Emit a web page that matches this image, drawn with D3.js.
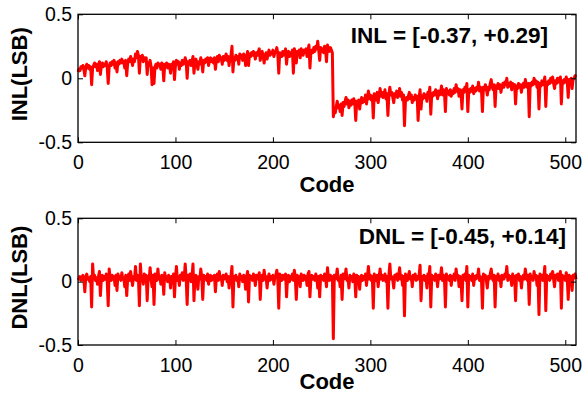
<!DOCTYPE html>
<html><head><meta charset="utf-8">
<script src="https://cdn.jsdelivr.net/npm/d3@7"></script>
<style>html,body{margin:0;padding:0;background:#fff;}svg{display:block;}</style>
</head><body>
<div id="chart"></div>
<script>
// ---- data ----
const xTicks = [0, 100, 200, 300, 400, 500];
const yTicks = [-0.5, 0, 0.5];
const yTickLabels = ["-0.5", "0", "0.5"];
const inlLabel = "INL = [-0.37, +0.29]";
const dnlLabel = "DNL = [-0.45, +0.14]";

const inl = [
0.05,0.07,0.06,0.09,0.08,0.10,0.07,0.02,0.09,0.11,0.08,0.10,0.07,0.09,-0.05,0.08,
0.10,0.12,0.09,0.11,0.06,0.10,0.13,0.03,0.10,0.12,0.09,0.11,0.10,0.13,0.08,-0.04,
0.09,0.12,0.10,0.13,0.11,0.14,0.08,0.12,0.05,0.13,0.11,0.14,0.12,0.15,0.12,0.13,
0.08,0.14,0.02,0.12,0.15,0.13,0.17,0.14,0.10,0.15,0.13,0.19,0.16,0.21,0.18,0.04,
0.17,0.15,0.18,0.13,0.16,0.14,0.16,0.03,0.12,0.10,0.14,0.09,-0.05,0.08,-0.04,0.09,
0.11,0.08,0.12,0.10,0.11,0.07,0.12,0.10,-0.02,0.11,0.09,0.12,0.08,0.11,0.10,0.04,
0.11,0.09,0.13,-0.01,0.10,0.14,0.11,0.13,0.07,0.12,0.10,0.14,0.11,0.12,0.16,0.13,
0.00,0.13,0.11,0.14,0.10,0.13,0.17,0.04,0.12,0.15,0.12,0.07,0.13,0.11,0.16,0.13,
0.05,0.14,0.12,0.15,0.13,0.16,0.10,0.14,0.16,0.13,0.15,0.12,0.16,0.07,0.14,0.17,
0.13,0.18,0.15,0.16,0.11,0.17,0.14,0.16,0.19,0.14,0.17,0.10,0.16,0.18,0.25,0.05,
0.16,0.14,0.18,0.15,0.17,0.11,0.19,0.16,0.18,0.14,0.19,0.17,0.10,0.17,0.21,0.10,
0.19,0.17,0.20,0.18,0.21,0.19,0.15,0.20,0.18,0.21,0.23,0.14,0.19,0.21,0.17,0.12,
0.18,0.20,0.15,0.19,0.22,0.18,0.20,0.19,0.22,0.17,0.20,0.21,0.24,0.19,0.04,0.20,
0.19,0.17,0.21,0.18,0.20,0.23,0.11,0.19,0.21,0.17,0.20,0.18,0.22,0.04,0.23,0.20,
0.12,0.21,0.19,0.22,0.16,0.23,0.20,0.18,0.22,0.20,0.23,0.17,0.22,0.26,0.08,0.21,
0.22,0.20,0.24,0.21,0.25,0.23,0.29,0.22,0.14,0.24,0.21,0.23,0.20,0.25,0.22,0.13,
0.26,0.23,0.21,0.24,0.22,0.20,-0.30,-0.24,-0.27,-0.22,-0.18,-0.23,-0.21,-0.26,-0.20,-0.29,
-0.19,-0.22,-0.18,-0.15,-0.20,-0.17,-0.23,-0.18,-0.21,-0.17,-0.20,-0.16,-0.19,-0.33,-0.18,-0.21,
-0.17,-0.24,-0.18,-0.15,-0.19,-0.16,-0.18,-0.13,-0.20,-0.15,-0.10,-0.16,-0.13,-0.17,-0.14,-0.31,
-0.12,-0.14,-0.17,-0.11,-0.19,-0.13,-0.08,-0.14,-0.11,-0.15,-0.12,-0.09,-0.16,-0.12,-0.29,-0.13,
-0.07,-0.13,-0.11,-0.15,-0.19,-0.12,-0.14,-0.10,-0.15,-0.12,-0.08,-0.14,-0.11,-0.17,-0.13,-0.37,
-0.18,-0.15,-0.17,-0.14,-0.11,-0.16,-0.13,-0.19,-0.15,-0.17,-0.13,-0.16,-0.14,-0.33,-0.15,-0.09,
-0.24,-0.14,-0.16,-0.12,-0.15,-0.13,-0.18,-0.11,-0.14,-0.07,-0.28,-0.12,-0.14,-0.11,-0.13,-0.09,
-0.12,-0.16,-0.10,-0.13,-0.11,-0.06,-0.13,-0.09,-0.11,-0.26,-0.08,-0.12,-0.10,-0.13,-0.09,-0.14,
-0.10,-0.12,-0.08,-0.11,-0.05,-0.10,-0.08,-0.14,-0.09,-0.11,-0.24,-0.09,-0.11,-0.07,-0.10,-0.04,
-0.26,-0.09,-0.11,-0.08,-0.10,-0.06,-0.12,-0.08,-0.10,-0.07,-0.09,-0.03,-0.10,-0.07,-0.09,-0.26,
-0.07,-0.09,-0.05,-0.08,-0.13,-0.07,-0.09,-0.04,-0.01,-0.07,-0.09,-0.05,-0.22,-0.06,-0.08,-0.04,
-0.08,-0.05,-0.11,-0.06,-0.04,-0.07,-0.03,-0.05,0.00,-0.07,-0.04,-0.06,-0.03,-0.09,-0.04,-0.06,
-0.05,-0.20,-0.06,-0.08,-0.04,-0.07,-0.05,-0.11,-0.06,-0.04,-0.07,-0.01,-0.05,-0.07,-0.04,-0.30,
-0.04,-0.06,-0.03,-0.05,0.00,-0.04,-0.02,-0.07,-0.03,-0.24,-0.04,-0.06,-0.02,-0.05,-0.03,0.01,
-0.22,-0.03,-0.05,-0.02,-0.04,0.00,-0.03,0.01,-0.04,-0.08,-0.02,-0.04,0.00,-0.03,-0.01,0.01,
-0.20,-0.02,-0.04,-0.01,-0.03,0.01,-0.02,-0.15,-0.01,-0.03,0.00,-0.08,-0.01,0.00,0.02,0.01
];

const dnl = [
0.03,0.02,0.04,0.01,0.03,0.05,0.02,-0.08,0.04,0.06,0.02,0.03,0.00,0.04,-0.20,0.14,
0.02,0.05,0.01,0.03,-0.02,0.04,0.08,-0.11,0.03,0.05,0.01,0.04,0.02,0.06,0.00,-0.19,
0.10,0.03,0.01,0.05,0.02,0.04,-0.03,0.05,-0.07,0.06,0.02,0.04,0.01,0.07,0.02,0.03,
-0.04,0.05,-0.11,0.03,0.06,0.01,0.08,0.02,-0.03,0.04,0.02,0.12,0.01,0.05,0.03,-0.19,
0.14,0.02,0.04,-0.02,0.06,0.03,0.05,-0.15,0.04,0.02,0.11,0.01,-0.04,0.05,-0.18,0.06,
0.03,0.01,0.10,0.02,0.04,-0.02,0.05,0.03,-0.10,0.07,0.02,0.04,0.00,0.05,0.03,-0.05,
0.04,0.02,0.06,-0.12,0.03,0.12,0.01,0.04,-0.03,0.05,0.02,0.07,0.01,0.03,0.14,0.02,
-0.18,0.05,0.03,0.06,0.00,0.04,0.14,-0.15,0.03,0.05,0.01,-0.06,0.04,0.02,0.10,0.03,
-0.14,0.05,0.02,0.04,0.01,0.06,-0.02,0.03,0.05,0.01,0.04,0.02,0.05,-0.08,0.03,0.06,
0.01,0.08,0.02,0.04,-0.03,0.05,0.02,0.03,0.06,0.00,0.04,-0.05,0.03,0.05,0.12,-0.20,
0.04,0.02,0.05,0.01,0.03,-0.04,0.06,0.02,0.04,0.00,0.05,0.03,-0.06,0.04,0.08,-0.16,
0.05,0.02,0.04,0.01,0.06,0.03,-0.03,0.05,0.02,0.04,0.07,-0.14,0.03,0.05,0.01,0.09,
0.02,0.04,-0.05,0.03,0.06,0.01,0.04,0.02,0.05,-0.02,0.03,0.05,0.09,0.02,-0.21,0.06,
0.03,0.01,0.05,0.02,0.04,0.06,-0.12,0.03,0.05,0.00,0.04,0.02,0.06,0.01,0.09,0.03,
-0.14,0.05,0.02,0.04,-0.04,0.06,0.03,0.01,0.05,0.02,0.04,-0.03,0.06,0.08,-0.12,0.03,
0.05,0.02,0.04,0.01,0.06,0.03,-0.05,0.04,-0.12,0.05,0.02,0.04,0.01,0.06,0.03,-0.04,
0.11,0.03,0.01,0.05,0.02,0.04,-0.45,0.05,0.02,0.04,0.10,0.01,0.03,-0.04,0.05,-0.14,
0.06,0.02,0.04,0.10,0.01,0.03,-0.05,0.05,0.02,0.04,0.00,0.06,0.03,-0.12,0.05,0.02,
0.04,-0.06,0.03,0.05,0.01,0.04,0.02,0.06,-0.03,0.04,0.12,0.02,0.05,0.01,0.04,-0.21,
0.06,0.03,0.01,0.05,-0.04,0.04,0.10,0.02,0.05,0.01,0.03,0.06,0.00,0.04,-0.21,0.05,
0.14,0.02,0.04,0.01,-0.05,0.05,0.03,0.06,0.01,0.04,0.11,0.02,0.05,-0.03,0.04,-0.27,
0.06,0.03,0.01,0.05,0.08,0.02,0.04,-0.04,0.05,0.02,0.06,0.01,0.04,0.02,0.05,0.13,
-0.15,0.04,0.02,0.05,0.01,0.04,-0.05,0.06,0.03,0.12,-0.20,0.05,0.02,0.04,0.01,0.06,
0.03,-0.04,0.05,0.02,0.04,0.11,0.01,0.05,0.03,-0.20,0.06,0.02,0.04,0.01,0.05,-0.03,
0.04,0.02,0.06,0.01,0.10,0.03,0.05,-0.04,0.04,0.02,-0.15,0.05,0.03,0.06,0.01,0.12,
-0.20,0.05,0.02,0.04,0.01,0.06,-0.03,0.04,0.02,0.05,0.03,0.10,0.01,0.04,0.02,-0.21,
0.06,0.03,0.05,0.01,-0.05,0.04,0.02,0.06,0.10,0.03,0.01,0.05,-0.20,0.04,0.02,0.06,
0.01,0.04,-0.04,0.05,0.03,0.02,0.06,0.04,0.12,0.01,0.05,0.02,0.04,-0.03,0.06,0.02,
0.04,-0.15,0.05,0.02,0.06,0.01,0.04,-0.05,0.03,0.05,0.02,0.10,0.04,0.01,0.05,-0.18,
0.06,0.02,0.04,0.01,0.08,0.03,0.05,-0.03,0.04,-0.26,0.06,0.02,0.05,0.01,0.04,0.12,
-0.23,0.05,0.02,0.04,0.01,0.06,0.03,0.08,0.02,-0.04,0.05,0.03,0.06,0.01,0.04,0.08,
-0.21,0.05,0.02,0.04,0.01,0.07,0.03,-0.14,0.05,0.02,0.04,-0.07,0.05,0.03,0.06,0.02
];

// ---- layout ----
const W = 583, H = 394;
const left = 78, right = 576;
const panels = [
  {data: inl, top: 14.3, bottom: 142.3, ylabel: "INL(LSB)", note: inlLabel, noteX: 548, noteY: 42.5, xlabY: 192},
  {data: dnl, top: 218.3, bottom: 345, ylabel: "DNL(LSB)", note: dnlLabel, noteX: 566, noteY: 243.5, xlabY: 389}
];
const FONT = "'Liberation Sans', Arial, Helvetica, sans-serif";

const svg = d3.select("#chart").append("svg")
  .attr("width", W).attr("height", H)
  .style("font-family", FONT);

const x = d3.scaleLinear().domain([0, 511]).range([left, right]);

panels.forEach(p => {
  const y = d3.scaleLinear().domain([-0.5, 0.5]).range([p.bottom, p.top]);
  const g = svg.append("g");

  // line
  const line = d3.line().x((d, i) => x(i)).y(d => y(d));
  g.append("path").datum(p.data)
    .attr("d", line)
    .attr("fill", "none")
    .attr("stroke", "#ff0000")
    .attr("stroke-width", 3)
    .attr("stroke-linejoin", "round");

  // axes
  const fmtY = d => yTickLabels[yTicks.indexOf(d)];
  const ax = g.append("g").attr("transform", `translate(0,${p.bottom})`)
    .call(d3.axisBottom(x).tickValues(xTicks).tickSizeInner(-5).tickSizeOuter(0).tickPadding(13).tickFormat(d3.format("d")));
  const axT = g.append("g").attr("transform", `translate(0,${p.top})`)
    .call(d3.axisTop(x).tickValues(xTicks).tickSizeInner(-5).tickSizeOuter(0).tickFormat(""));
  const ay = g.append("g").attr("transform", `translate(${left},0)`)
    .call(d3.axisLeft(y).tickValues(yTicks).tickSizeInner(-5).tickSizeOuter(0).tickPadding(6).tickFormat(fmtY));
  const ayR = g.append("g").attr("transform", `translate(${right},0)`)
    .call(d3.axisRight(y).tickValues(yTicks).tickSizeInner(-5).tickSizeOuter(0).tickFormat(""));

  [ax, axT, ay, ayR].forEach(a => {
    a.select(".domain").remove();
    a.selectAll("line").attr("stroke", "#000").attr("stroke-width", 1);
    a.selectAll("text").attr("font-size", 19.5).attr("fill", "#000").attr("font-family", FONT);
  });

  // box
  g.append("rect")
    .attr("x", left).attr("y", p.top)
    .attr("width", right - left).attr("height", p.bottom - p.top)
    .attr("fill", "none").attr("stroke", "#000").attr("stroke-width", 1.3);

  // x label
  g.append("text").text("Code")
    .attr("x", (left + right) / 2).attr("y", p.xlabY)
    .attr("text-anchor", "middle").attr("font-weight", "bold").attr("font-size", 22);

  // y label
  const cy = (p.top + p.bottom) / 2 - 4;
  g.append("text").text(p.ylabel)
    .attr("transform", `translate(27,${cy}) rotate(-90)`)
    .attr("text-anchor", "middle").attr("font-weight", "bold").attr("font-size", 22);

  // annotation
  g.append("text").text(p.note)
    .attr("x", p.noteX).attr("y", p.noteY)
    .attr("text-anchor", "end").attr("font-weight", "bold").attr("font-size", 22.5);
});
</script>
</body></html>
